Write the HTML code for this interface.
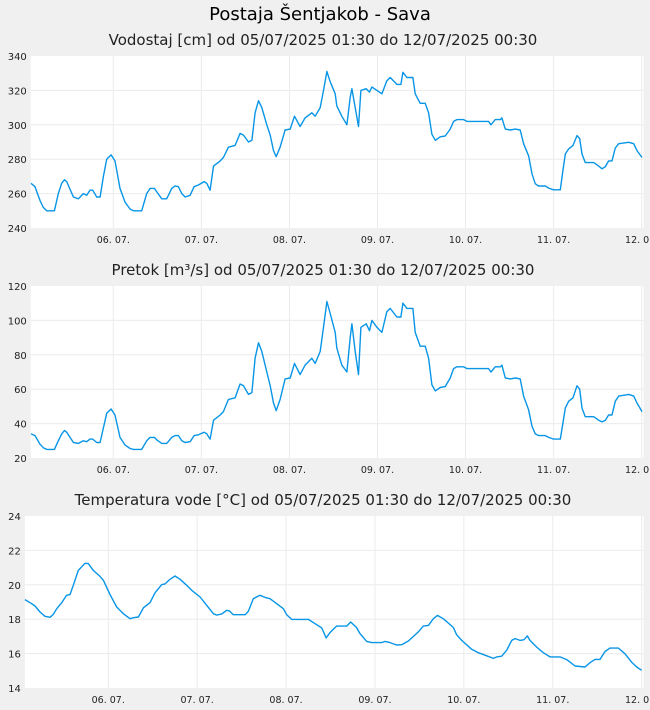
<!DOCTYPE html>
<html><head><meta charset="utf-8"><style>
body{margin:0;background:#f0f0f0;width:650px;height:710px;overflow:hidden;font-family:"DejaVu Sans","Liberation Sans",sans-serif}
svg{display:block}
</style></head><body>
<svg id="c" width="650" height="710" font-family="DejaVu Sans, Liberation Sans, sans-serif">
<text x="320" y="20" text-anchor="middle" font-size="18" fill="#000">Postaja Šentjakob - Sava</text>
</svg>
<script>
// shared time axis (decimal day of July) for level & flow
const timesQ=[5.065,5.110,5.167,5.205,5.243,5.330,5.375,5.413,5.444,5.470,5.546,5.603,5.659,5.697,5.735,5.766,5.811,5.849,5.887,5.924,5.974,6.019,6.076,6.133,6.190,6.228,6.322,6.379,6.417,6.466,6.493,6.550,6.606,6.663,6.701,6.739,6.777,6.815,6.872,6.917,6.966,7.031,7.061,7.099,7.137,7.213,7.250,7.307,7.383,7.440,7.478,7.535,7.573,7.610,7.648,7.686,7.743,7.781,7.819,7.849,7.894,7.951,8.008,8.057,8.121,8.178,8.254,8.292,8.349,8.387,8.425,8.4625,8.519,8.538,8.595,8.652,8.690,8.709,8.747,8.784,8.811,8.872,8.909,8.936,8.993,9.050,9.106,9.144,9.220,9.266,9.288,9.334,9.402,9.428,9.485,9.542,9.580,9.618,9.656,9.712,9.769,9.826,9.864,9.902,9.978,10.016,10.262,10.288,10.338,10.394,10.413,10.451,10.508,10.565,10.621,10.659,10.716,10.754,10.792,10.830,10.906,10.944,11.000,11.076,11.103,11.133,11.171,11.220,11.266,11.296,11.322,11.360,11.455,11.512,11.550,11.588,11.625,11.663,11.701,11.739,11.853,11.909,11.947,12.004];
const levelValues=[266,264,256,252,250,250,260,266,268,267,258,257,260,259,262,262,258,258,270,280,282.5,279,263,255,251,250,250,260,263,263,261,257,257,263,264.5,264,260,258,259,264,265,267,266,262,276,279,281,287,288,295,294,290,291,307,314,310,300,294,285,281.5,287,297,297.5,305,299,304,307,305,310,320,331,325,318,311,305,300,316,321,310,299,320,321,319,322,320,318,325.5,327.5,323.5,323.5,330.5,327.5,327.5,318,312.5,312.5,307,294.5,291,293,293.5,297.5,302,303,303,302,302,300,303,303,304,297.5,297,297.5,297,289,282,271.5,265.7,264.4,264.4,263.2,262.2,262.2,272.5,283,286,288,293.7,292,283,278,278,276,274.4,275.7,279,279,286.5,289,289.8,289,285,281];
const flowValues=[34,33,28,26,25,25,30,34,36,35,29,28.5,30,29.5,31,31,29,29,37.5,46,48.5,45,32,27.5,25.5,25,25,30,32,32,30.5,28.5,28.5,32,33,33,30,29,29.5,33,33.5,35,34,31,42,45,47,54,55,63,62,57,58,78,87,82,70,62,52,47.5,54,66,66.5,75,68.5,74,78,75,82,96,111,104,93,84,74,70,90,98,82,68.5,96,98,94,100,96,93,105,107,102,102,110,107,107,93,85,85,78,62.5,59,61,61.5,66.5,72,73,73,72,72,70,73,73,74,66.5,66,66.5,66,56,48,38.5,34,33,33,32,31,31,39.5,49,53,55,62,60,49,44,44,42,41,42,45,45,53,56,57,56,52,47];
const timesT=[5.063,5.139,5.176,5.232,5.289,5.345,5.382,5.420,5.476,5.532,5.570,5.607,5.663,5.738,5.776,5.832,5.907,5.945,6.020,6.095,6.170,6.245,6.283,6.339,6.395,6.470,6.527,6.602,6.639,6.695,6.752,6.808,6.883,6.939,7.033,7.108,7.183,7.220,7.276,7.333,7.363,7.407,7.539,7.576,7.632,7.707,7.764,7.820,7.895,7.970,8.007,8.064,8.252,8.327,8.402,8.451,8.4945,8.532,8.569,8.682,8.727,8.794,8.832,8.907,8.963,9.076,9.113,9.169,9.244,9.301,9.376,9.488,9.544,9.601,9.657,9.702,9.769,9.837,9.882,9.919,9.976,10.088,10.163,10.257,10.332,10.369,10.426,10.482,10.538,10.576,10.632,10.677,10.714,10.744,10.819,10.894,10.969,11.082,11.157,11.250,11.363,11.419,11.475,11.532,11.588,11.644,11.738,11.813,11.888,11.944,12.000];
const tempValues=[19.14,18.90,18.77,18.42,18.17,18.11,18.28,18.61,18.96,19.39,19.43,19.97,20.84,21.25,21.23,20.84,20.49,20.26,19.43,18.71,18.32,18.03,18.09,18.13,18.66,18.96,19.54,20.01,20.05,20.32,20.51,20.32,19.97,19.68,19.29,18.81,18.32,18.24,18.30,18.52,18.48,18.26,18.26,18.46,19.19,19.39,19.27,19.19,18.90,18.61,18.26,17.99,17.99,17.74,17.49,16.91,17.22,17.41,17.60,17.60,17.84,17.51,17.16,16.71,16.64,16.64,16.71,16.64,16.50,16.52,16.73,17.26,17.60,17.64,18.03,18.22,18.03,17.72,17.51,17.10,16.77,16.25,16.05,15.87,15.72,15.81,15.85,16.20,16.77,16.87,16.77,16.81,17.03,16.77,16.38,16.05,15.81,15.81,15.65,15.28,15.22,15.47,15.66,15.66,16.12,16.32,16.32,15.99,15.50,15.22,15.03];
const dayTicks=[6,7,8,9,10,11,12];
const dayLabels=["06. 07.","07. 07.","08. 07.","09. 07.","10. 07.","11. 07.","12. 07."];
const levelTicks=[240,260,280,300,320,340];
const flowTicks=[20,40,60,80,100,120];
const tempTicks=[14,16,18,20,22,24];
const tStart=5.0625,tEnd=12.0208;
const svg=document.getElementById('c');
const NS='http://www.w3.org/2000/svg';
function mk(tag,attrs,parent){const e=document.createElementNS(NS,tag);for(const k in attrs)e.setAttribute(k,attrs[k]);(parent||svg).appendChild(e);return e;}
function chart(key,title,top,left,right,times,vals,ticks){
  const bottom=top+172,yMin=ticks[0],yMax=ticks[ticks.length-1];
  const xs=d=>left+(d-tStart)/(tEnd-tStart)*(right-left);
  const ys=v=>bottom-(v-yMin)/(yMax-yMin)*(bottom-top);
  const g=mk('g',{});
  
  
  const t=mk('text',{x:323,y:top-11,'text-anchor':'middle','font-size':15,fill:'#222'},g);
  t.textContent=title;
  
  
  const bg=mk('rect',{x:left,y:top,width:right-left,height:bottom-top,fill:'#fff'},g);
  
  
  ticks.forEach(v=>{
    const y=ys(v);
    if(v!==yMin&&v!==yMax){const l=mk('line',{x1:left,x2:right,y1:y,y2:y,stroke:'#ebebeb','stroke-width':1},g);
      
      }
    const tx=mk('text',{x:left-4,y:y+4,'text-anchor':'end','font-size':10,fill:'#222'},g);
    tx.textContent=v;
    
    
  });
  dayTicks.forEach((d,i)=>{
    const x=xs(d);
    const l=mk('line',{x1:x,x2:x,y1:top,y2:bottom,stroke:'#ebebeb','stroke-width':1},g);
    
    
    const tx=mk('text',{x:x,y:bottom+15,'text-anchor':'middle','font-size':9.5,fill:'#222'},g);
    tx.textContent=dayLabels[i];
    
    
  });
  let p='';
  times.forEach((d,i)=>{p+=(i?'L':'M')+xs(d).toFixed(1)+' '+ys(vals[i]).toFixed(1);});
  const path=mk('path',{d:p,fill:'none',stroke:'#0895e6','stroke-width':1.4,'stroke-linejoin':'round'},g);
  
  
}
chart('level','Vodostaj [cm] od 05/07/2025 01:30 do 12/07/2025 00:30',56,30.8,643.5,timesQ,levelValues,levelTicks);
chart('flow','Pretok [m³/s] od 05/07/2025 01:30 do 12/07/2025 00:30',286,30.8,643.5,timesQ,flowValues,flowTicks);
chart('temp','Temperatura vode [°C] od 05/07/2025 01:30 do 12/07/2025 00:30',516,24.9,643.5,timesT,tempValues,tempTicks);
</script>
</body></html>
